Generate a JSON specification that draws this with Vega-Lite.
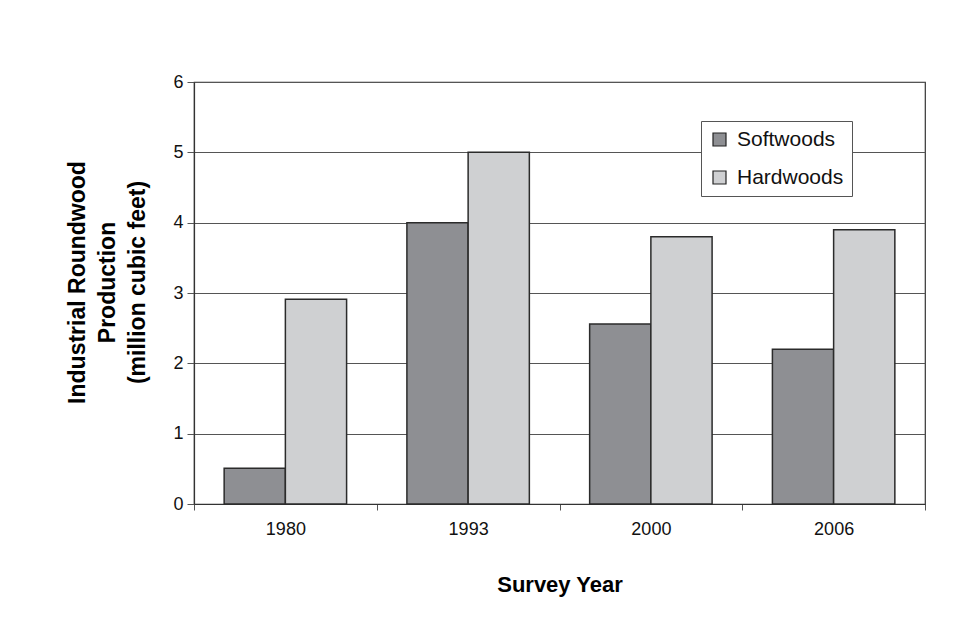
{
  "$schema": "https://vega.github.io/schema/vega-lite/v6.json",
  "autosize": {"type": "none"},
  "padding": {"left": 194, "top": 82, "right": 36, "bottom": 135},
  "width": 731,
  "height": 422,
  "background": "white",
  "data": {
    "values": [
      {"year": "1980", "type": "Softwoods", "value": 0.51},
      {"year": "1980", "type": "Hardwoods", "value": 2.91},
      {"year": "1993", "type": "Softwoods", "value": 4.0},
      {"year": "1993", "type": "Hardwoods", "value": 5.0},
      {"year": "2000", "type": "Softwoods", "value": 2.56},
      {"year": "2000", "type": "Hardwoods", "value": 3.8},
      {"year": "2006", "type": "Softwoods", "value": 2.2},
      {"year": "2006", "type": "Hardwoods", "value": 3.9}
    ]
  },
  "mark": {"type": "bar", "stroke": "#2b2b2b", "strokeWidth": 1.5},
  "encoding": {
    "x": {
      "field": "year",
      "type": "nominal",
      "scale": {"paddingInner": 0, "paddingOuter": 0},
      "axis": {
        "title": "Survey Year",
        "labelAngle": 0,
        "tickBand": "extent",
        "grid": false,
        "domainColor": "#333333",
        "tickColor": "#555555",
        "tickSize": 6,
        "labelPadding": 10,
        "labelFont": "Liberation Sans",
        "labelFontSize": 18,
        "labelColor": "#111111",
        "titleFont": "Liberation Sans",
        "titleFontSize": 22,
        "titleFontWeight": "bold",
        "titleColor": "#000000",
        "titleBaseline": "alphabetic",
        "titleY": 87
      }
    },
    "xOffset": {"field": "type", "type": "nominal", "sort": ["Softwoods", "Hardwoods"], "scale": {"paddingInner": 0, "paddingOuter": 0.4925}},
    "y": {
      "field": "value",
      "type": "quantitative",
      "scale": {"domain": [0, 6], "nice": false},
      "axis": {
        "title": ["Industrial Roundwood", "Production", "(million cubic feet)"],
        "values": [0, 1, 2, 3, 4, 5, 6],
        "grid": true,
        "gridColor": "#555555",
        "gridWidth": 1,
        "domainColor": "#333333",
        "tickColor": "#555555",
        "tickSize": 7,
        "labelPadding": 4,
        "labelFont": "Liberation Sans",
        "labelFontSize": 18,
        "labelColor": "#111111",
        "titleFont": "Liberation Sans",
        "titleFontSize": 23,
        "titleFontWeight": "bold",
        "titleColor": "#000000",
        "titleLineHeight": 30,
        "titleAngle": -90,
        "titleAlign": "center",
        "titleBaseline": "middle",
        "titleX": -117,
        "titleY": 200
      }
    },
    "color": {
      "field": "type",
      "type": "nominal",
      "sort": ["Softwoods", "Hardwoods"],
      "scale": {"domain": ["Softwoods", "Hardwoods"], "range": ["#8e8f93", "#cfd0d2"]},
      "legend": {
        "title": null,
        "orient": "none",
        "legendX": 507,
        "legendY": 39,
        "fillColor": "white",
        "strokeColor": "#555555",
        "padding": 8,
        "rowPadding": 16,
        "symbolType": "square",
        "symbolSize": 169,
        "symbolStrokeColor": "#222222",
        "symbolStrokeWidth": 1.2,
        "labelOffset": 7,
        "labelFont": "Liberation Sans",
        "labelFontSize": 21,
        "labelColor": "#111111"
      }
    }
  },
  "config": {
    "view": {"stroke": "#333333", "strokeWidth": 1.2},
    "axis": {"domainWidth": 1.2}
  }
}
